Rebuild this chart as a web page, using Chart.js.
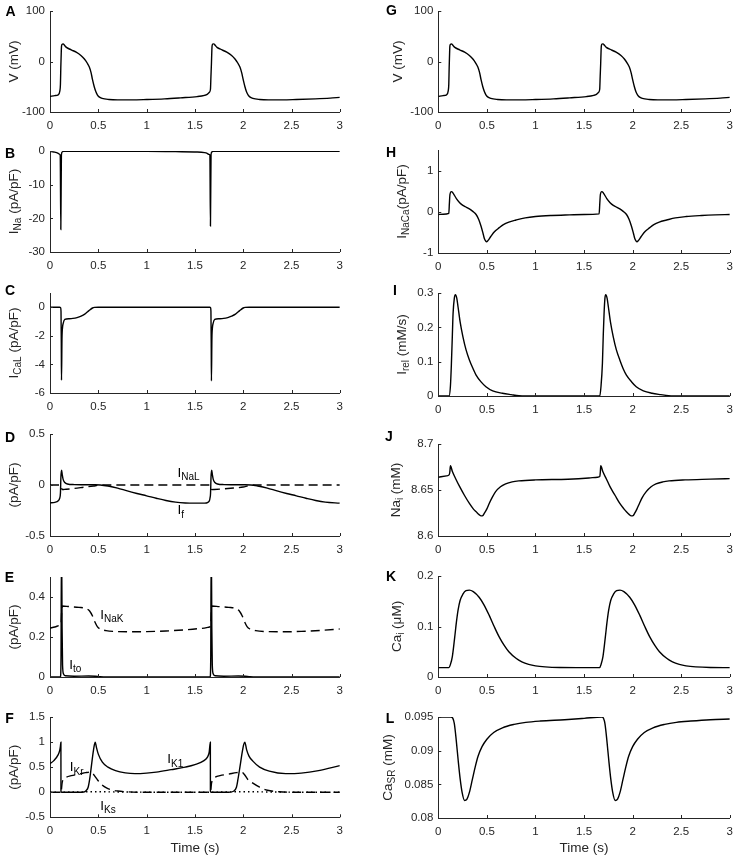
<!DOCTYPE html>
<html>
<head>
<meta charset="utf-8">
<script src="https://cdn.jsdelivr.net/npm/chart.js@4.4.1/dist/chart.umd.min.js"></script>
<style>
html, body { margin:0; padding:0; background:#fff; }
body { position:relative; width:740px; height:860px; overflow:hidden; }
canvas { position:absolute; }
</style>
</head>
<body>
<script>
// ---------- shared x axis ----------
const xTickVals = [0, 0.5, 1, 1.5, 2, 2.5, 3];
const xTickLabels = ['0', '0.5', '1', '1.5', '2', '2.5', '3'];

// ---------- A / G : membrane potential V (mV) ----------
const tV = [0, 0.05, 0.085, 0.102, 0.108, 0.112, 0.116, 0.119, 0.125, 0.136,
  0.15, 0.17, 0.22, 0.271, 0.32, 0.356, 0.385, 0.407, 0.425, 0.44,
  0.458, 0.475, 0.49, 0.508, 0.54, 0.61, 0.7, 0.847, 1.0, 1.186,
  1.35, 1.525, 1.6, 1.627, 1.65, 1.661, 1.666, 1.671, 1.675, 1.678,
  1.686, 1.695, 1.71, 1.729, 1.78, 1.83, 1.88, 1.915, 1.944, 1.966,
  1.984, 2.0, 2.018, 2.034, 2.05, 2.068, 2.1, 2.17, 2.26, 2.407,
  2.55, 2.746, 2.9, 3.0];
const V = [-69, -67.5, -66, -58, -45, -11, 15, 30, 34, 35,
  32, 28, 23, 18.5, 12, 5, -3, -11, -22, -36,
  -50, -60, -66, -70, -73, -75.2, -76, -76, -75.3, -74,
  -72, -69.5, -67, -65, -61, -55, -30, -5, 20, 31,
  34.5, 35, 32, 28, 23, 18.5, 12, 5, -3, -11,
  -22, -36, -50, -60, -66, -70, -73, -75.2, -76, -76,
  -75.3, -74, -72.5, -71];
const yTicksV = [-100, 0, 100];
const yLabelsV = ['-100', '0', '100'];

// ---------- B : I_Na ----------
const tNa = [0, 0.04, 0.085, 0.1, 0.106, 0.112, 0.118, 0.125, 0.14, 0.5,
  1.0, 1.3, 1.525, 1.6, 1.627, 1.645, 1.655, 1.661, 1.667, 1.675,
  1.69, 2.0, 2.5, 3.0];
const iNa = [-0.1, -0.3, -0.7, -1.0, -1.3, -23.3, -1.2, -0.3, -0.1, -0.1,
  -0.1, -0.2, -0.3, -0.5, -0.7, -1.0, -1.2, -22.3, -1.1, -0.3,
  -0.1, -0.1, -0.1, -0.1];
const yTicksB = [-30, -20, -10, 0];
const yLabelsB = ['-30', '-20', '-10', '0'];

// ---------- C : I_CaL ----------
const tCaL = [0, 0.1, 0.11, 0.114, 0.117, 0.119, 0.124, 0.13, 0.136, 0.153,
  0.2, 0.237, 0.28, 0.322, 0.36, 0.39, 0.415, 0.44, 0.46, 0.5,
  1.0, 1.5, 1.655, 1.662, 1.666, 1.669, 1.671, 1.676, 1.682, 1.688,
  1.705, 1.75, 1.797, 1.84, 1.88, 1.92, 1.95, 1.975, 2.0, 2.02,
  2.06, 2.5, 3.0];
const iCaL = [0, 0, -0.02, -0.3, -2.5, -5.1, -2.2, -1.4, -1.14, -0.85,
  -0.8, -0.78, -0.72, -0.62, -0.48, -0.31, -0.17, -0.05, -0.01, 0,
  0, 0, 0, -0.02, -0.3, -2.5, -5.15, -2.2, -1.4, -1.14,
  -0.85, -0.8, -0.78, -0.72, -0.62, -0.48, -0.31, -0.17, -0.05, -0.01,
  0, 0, 0];
const yTicksC = [-6, -4, -2, 0];
const yLabelsC = ['-6', '-4', '-2', '0'];

// ---------- D : I_f (solid) and I_NaL (dashed) ----------
const tIf = [0, 0.05, 0.085, 0.1, 0.108, 0.113, 0.12, 0.127, 0.136, 0.153,
  0.18, 0.25, 0.35, 0.45, 0.52, 0.6, 0.7, 0.8, 0.9, 1.0,
  1.1, 1.2, 1.3, 1.4, 1.5, 1.6, 1.635, 1.65, 1.656, 1.662,
  1.667, 1.674, 1.681, 1.69, 1.707, 1.734, 1.8, 1.9, 2.0, 2.08,
  2.15, 2.25, 2.35, 2.45, 2.55, 2.65, 2.75, 2.85, 3.0];
const iF = [-0.175, -0.17, -0.155, -0.13, -0.08, 0.08, 0.145, 0.1, 0.055, 0.025,
  0.01, 0.004, 0.003, 0.002, 0, -0.01, -0.03, -0.058, -0.083, -0.106,
  -0.13, -0.152, -0.168, -0.176, -0.178, -0.178, -0.17, -0.155, -0.13, -0.08,
  0.08, 0.145, 0.1, 0.055, 0.025, 0.01, 0.004, 0.003, 0.002, 0,
  -0.01, -0.03, -0.058, -0.083, -0.106, -0.13, -0.152, -0.168, -0.178];
const tNaL = [0, 0.11, 0.118, 0.125, 0.15, 0.25, 0.35, 0.45, 0.5, 0.55,
  1.66, 1.667, 1.675, 1.7, 1.8, 1.9, 2.0, 2.05, 2.1, 3.0];
const iNaL = [0, 0, -0.02, -0.045, -0.043, -0.034, -0.022, -0.01, -0.003, 0,
  0, -0.02, -0.045, -0.044, -0.038, -0.03, -0.02, -0.008, 0, 0];
const yTicksD = [-0.5, 0, 0.5];
const yLabelsD = ['-0.5', '0', '0.5'];

// ---------- E : I_to (solid) and I_NaK (dashed) ----------
const tTo = [0, 0.108, 0.114, 0.118, 0.121, 0.125, 0.13, 0.14, 0.16, 0.25,
  0.4, 0.47, 0.52, 0.6, 1.6, 1.658, 1.664, 1.668, 1.671, 1.675,
  1.68, 1.69, 1.71, 1.8, 1.95, 2.02, 2.07, 2.15, 3.0];
const iTo = [0, 0, 0.1, 0.6, 0.6, 0.25, 0.06, 0.015, 0.006, 0.004,
  0.005, 0.004, 0.001, 0, 0, 0, 0.1, 0.6, 0.6, 0.25,
  0.06, 0.015, 0.006, 0.004, 0.005, 0.004, 0.001, 0, 0];
const tNaK = [0, 0.05, 0.1, 0.114, 0.12, 0.125, 0.2, 0.3, 0.37, 0.41,
  0.44, 0.465, 0.49, 0.52, 0.58, 0.7, 0.85, 1.0, 1.2, 1.4,
  1.55, 1.65, 1.664, 1.67, 1.675, 1.75, 1.85, 1.92, 1.96, 1.99,
  2.015, 2.04, 2.07, 2.13, 2.25, 2.4, 2.6, 2.8, 3.0];
const iNaK = [0.245, 0.25, 0.258, 0.265, 0.32, 0.355, 0.352, 0.348, 0.343, 0.33,
  0.305, 0.275, 0.252, 0.24, 0.232, 0.227, 0.226, 0.227, 0.23, 0.236,
  0.242, 0.25, 0.26, 0.32, 0.355, 0.352, 0.348, 0.343, 0.33, 0.305,
  0.275, 0.252, 0.24, 0.232, 0.227, 0.226, 0.228, 0.233, 0.24];
const yTicksE = [0, 0.2, 0.4];
const yLabelsE = ['0', '0.2', '0.4'];

// ---------- F : I_K1 (solid), I_Kr (dashed), I_Ks (dotted) ----------
const tK1 = [0, 0.04, 0.085, 0.1, 0.108, 0.113, 0.1135, 0.12, 0.3, 0.35,
  0.373, 0.395, 0.41, 0.424, 0.44, 0.455, 0.468, 0.48, 0.5, 0.542,
  0.6, 0.678, 0.78, 0.88, 1.0, 1.1, 1.254, 1.4, 1.5, 1.594,
  1.63, 1.648, 1.66, 1.6605, 1.667, 1.85, 1.9, 1.93, 1.945, 1.966,
  1.99, 2.005, 2.017, 2.035, 2.06, 2.1, 2.17, 2.27, 2.44, 2.6,
  2.78, 3.0];
const iK1 = [0.57, 0.63, 0.75, 0.83, 0.92, 1.0, 0.02, 0, 0, 0.005,
  0.03, 0.1, 0.25, 0.45, 0.7, 0.9, 1.0, 0.9, 0.76, 0.6,
  0.5, 0.43, 0.385, 0.37, 0.38, 0.4, 0.45, 0.5, 0.55, 0.63,
  0.7, 0.8, 1.0, 0.02, 0, 0, 0.02, 0.1, 0.25, 0.5,
  0.8, 0.95, 1.0, 0.85, 0.72, 0.62, 0.5, 0.42, 0.37, 0.38,
  0.43, 0.53];
const tKr = [0, 0.113, 0.118, 0.125, 0.14, 0.17, 0.22, 0.3, 0.37, 0.41,
  0.44, 0.46, 0.49, 0.53, 0.58, 0.63, 0.7, 0.8, 0.9, 1.66,
  1.665, 1.672, 1.69, 1.712, 1.76, 1.85, 1.93, 1.983, 2.01, 2.05,
  2.1, 2.17, 2.25, 2.37, 2.5, 3.0];
const iKr = [0, 0, 0.05, 0.18, 0.26, 0.3, 0.33, 0.36, 0.39, 0.4,
  0.38, 0.33, 0.25, 0.16, 0.09, 0.05, 0.025, 0.008, 0, 0,
  0.05, 0.18, 0.26, 0.3, 0.33, 0.36, 0.39, 0.4, 0.36, 0.25,
  0.18, 0.1, 0.04, 0.01, 0, 0];
const tKs = [0, 0.12, 0.2, 0.35, 0.5, 0.7, 1.0, 1.67, 1.75, 1.9, 2.05, 2.25, 2.6, 3.0];
const iKs = [0, 0, 0.003, 0.008, 0.01, 0.005, 0.001, 0, 0.003, 0.008, 0.01, 0.005, 0.001, 0];
const yTicksF = [-0.5, 0, 0.5, 1, 1.5];
const yLabelsF = ['-0.5', '0', '0.5', '1', '1.5'];

// ---------- H : I_NaCa ----------
const tNCX = [0, 0.05, 0.108, 0.114, 0.12, 0.135, 0.15, 0.186, 0.22, 0.253,
  0.29, 0.32, 0.355, 0.389, 0.415, 0.44, 0.46, 0.473, 0.488, 0.497,
  0.51, 0.54, 0.58, 0.625, 0.67, 0.726, 0.8, 0.895, 1.0, 1.166,
  1.35, 1.5, 1.655, 1.662, 1.668, 1.683, 1.698, 1.734, 1.768, 1.801,
  1.838, 1.868, 1.903, 1.937, 1.963, 1.988, 2.008, 2.021, 2.036, 2.045,
  2.058, 2.088, 2.128, 2.173, 2.218, 2.274, 2.35, 2.44, 2.55, 2.71,
  2.85, 3.0];
const iNCX = [-0.065, -0.06, -0.04, 0.2, 0.42, 0.49, 0.46, 0.32, 0.22, 0.155,
  0.11, 0.07, 0.01, -0.065, -0.18, -0.35, -0.52, -0.64, -0.71, -0.73,
  -0.7, -0.6, -0.48, -0.39, -0.31, -0.25, -0.2, -0.147, -0.115, -0.09,
  -0.075, -0.065, -0.05, 0.2, 0.42, 0.49, 0.46, 0.32, 0.22, 0.155,
  0.11, 0.07, 0.01, -0.065, -0.18, -0.35, -0.52, -0.64, -0.71, -0.73,
  -0.7, -0.6, -0.48, -0.39, -0.31, -0.25, -0.2, -0.147, -0.115, -0.09,
  -0.075, -0.065];
const yTicksH = [-1, 0, 1];
const yLabelsH = ['-1', '0', '1'];

// ---------- I : I_rel ----------
const tRel = [0, 0.111, 0.125, 0.135, 0.145, 0.152, 0.165, 0.176, 0.19, 0.203,
  0.225, 0.253, 0.285, 0.32, 0.36, 0.389, 0.44, 0.49, 0.56, 0.66,
  0.75, 0.83, 1.0, 1.662, 1.675, 1.689, 1.698, 1.706, 1.715, 1.723,
  1.737, 1.75, 1.772, 1.8, 1.832, 1.868, 1.905, 1.936, 1.99, 2.037,
  2.11, 2.2, 2.29, 2.37, 2.5, 3.0];
const iRel = [0, 0, 0.03, 0.095, 0.18, 0.24, 0.285, 0.295, 0.285, 0.26,
  0.215, 0.173, 0.135, 0.105, 0.078, 0.061, 0.041, 0.027, 0.015, 0.008,
  0.004, 0.001, 0, 0, 0.03, 0.095, 0.18, 0.24, 0.285, 0.295,
  0.285, 0.26, 0.215, 0.173, 0.135, 0.105, 0.078, 0.061, 0.041, 0.027,
  0.015, 0.008, 0.004, 0.001, 0, 0];
const yTicksI = [0, 0.1, 0.2, 0.3];
const yLabelsI = ['0', '0.1', '0.2', '0.3'];

// ---------- J : Na_i ----------
const tNai = [0, 0.084, 0.111, 0.118, 0.125, 0.145, 0.18, 0.22, 0.27, 0.32,
  0.36, 0.39, 0.42, 0.44, 0.458, 0.473, 0.5, 0.524, 0.555, 0.59,
  0.64, 0.693, 0.76, 0.828, 1.0, 1.334, 1.55, 1.639, 1.662, 1.667,
  1.672, 1.693, 1.73, 1.767, 1.82, 1.868, 1.91, 1.936, 1.966, 1.986,
  2.005, 2.02, 2.045, 2.07, 2.1, 2.14, 2.19, 2.24, 2.31, 2.375,
  2.54, 2.8, 3.0];
const Nai = [8.6639, 8.6653, 8.6664, 8.669, 8.6763, 8.670, 8.662, 8.6536, 8.644, 8.6354,
  8.6295, 8.6263, 8.6232, 8.6219, 8.6222, 8.6245, 8.6295, 8.6354, 8.642, 8.6482,
  8.6535, 8.6566, 8.6588, 8.6599, 8.661, 8.6617, 8.663, 8.6639, 8.6646, 8.669,
  8.6763, 8.670, 8.662, 8.6536, 8.644, 8.6354, 8.6295, 8.6263, 8.6232, 8.6219,
  8.6222, 8.6245, 8.6295, 8.6354, 8.642, 8.6482, 8.6535, 8.6566, 8.6588, 8.6599,
  8.661, 8.6618, 8.6624];
const yTicksJ = [8.6, 8.65, 8.7];
const yLabelsJ = ['8.6', '8.65', '8.7'];

// ---------- K : Ca_i ----------
const tCai = [0, 0.108, 0.125, 0.145, 0.169, 0.186, 0.203, 0.225, 0.253, 0.285,
  0.32, 0.36, 0.42, 0.47, 0.524, 0.575, 0.625, 0.68, 0.726, 0.8,
  0.86, 0.93, 1.0, 1.1, 1.25, 1.5, 1.66, 1.675, 1.695, 1.719,
  1.736, 1.753, 1.775, 1.803, 1.835, 1.87, 1.91, 1.97, 2.02, 2.074,
  2.125, 2.175, 2.23, 2.276, 2.35, 2.41, 2.48, 2.55, 2.65, 2.8,
  3.0];
const Cai = [0.0185, 0.0185, 0.025, 0.041, 0.079, 0.108, 0.132, 0.152, 0.164, 0.171,
  0.172, 0.169, 0.158, 0.143, 0.122, 0.1, 0.08, 0.062, 0.05, 0.037,
  0.03, 0.025, 0.022, 0.02, 0.0188, 0.0185, 0.0186, 0.025, 0.041, 0.079,
  0.108, 0.132, 0.152, 0.164, 0.171, 0.172, 0.169, 0.158, 0.143, 0.122,
  0.1, 0.08, 0.062, 0.05, 0.037, 0.03, 0.025, 0.022, 0.02, 0.0188,
  0.0185];
const yTicksK = [0, 0.1, 0.2];
const yLabelsK = ['0', '0.1', '0.2'];

// ---------- L : Ca_SR ----------
const tSR = [0, 0.13, 0.15, 0.165, 0.185, 0.205, 0.225, 0.245, 0.27, 0.295,
  0.32, 0.35, 0.38, 0.41, 0.45, 0.5, 0.57, 0.66, 0.78, 0.9,
  1.05, 1.3, 1.5, 1.685, 1.7, 1.715, 1.735, 1.755, 1.775, 1.795,
  1.82, 1.845, 1.87, 1.9, 1.93, 1.96, 2.0, 2.05, 2.12, 2.21,
  2.33, 2.45, 2.6, 2.8, 3.0];
const CaSR = [0.095, 0.095, 0.0948, 0.094, 0.0915, 0.0885, 0.0858, 0.0838, 0.0826, 0.0828,
  0.0838, 0.0857, 0.0876, 0.0892, 0.0906, 0.0917, 0.0927, 0.0934, 0.0939, 0.0942,
  0.0944, 0.0946, 0.0948, 0.095, 0.0948, 0.094, 0.0915, 0.0885, 0.0858, 0.0838,
  0.0826, 0.0828, 0.0838, 0.0857, 0.0876, 0.0892, 0.0906, 0.0917, 0.0927, 0.0934,
  0.0939, 0.0942, 0.0944, 0.0946, 0.0947];
const yTicksL = [0.08, 0.085, 0.09, 0.095];
const yLabelsL = ['0.08', '0.085', '0.09', '0.095'];

// ---------- styling / layout ----------
const FONT = '"Liberation Sans", Arial, Helvetica, sans-serif';
const AXIS = '#262626';
const DASH = [9, 5];
const DOT = [1.5, 3];

const panels = [
  { id:'A', col:0, top:11, bottom:112, yMin:-100, yMax:100, yTicks:yTicksV, yLabels:yLabelsV,
    title:[['V (mV)',0]], titleX:13, lx:10.5, ly:11,
    series:[{t:tV, v:V}] },
  { id:'B', col:0, top:151, bottom:252, yMin:-30, yMax:0, yTicks:yTicksB, yLabels:yLabelsB,
    title:[['I',0],['Na',1],[' (pA/pF)',0]], titleX:13, lx:10, ly:152.5,
    series:[{t:tNa, v:iNa}] },
  { id:'C', col:0, top:292.5, bottom:392, yMin:-6, yMax:1, yTicks:yTicksC, yLabels:yLabelsC,
    title:[['I',0],['CaL',1],[' (pA/pF)',0]], titleX:13, lx:10, ly:289,
    series:[{t:tCaL, v:iCaL}] },
  { id:'D', col:0, top:434, bottom:536, yMin:-0.5, yMax:0.5, yTicks:yTicksD, yLabels:yLabelsD,
    title:[['(pA/pF)',0]], titleX:13, lx:10, ly:437,
    series:[{t:tNaL, v:iNaL, dash:DASH}, {t:tIf, v:iF}],
    notes:[{parts:[['I',0],['NaL',1]], t:1.32, v:0.13}, {parts:[['I',0],['f',1]], t:1.32, v:-0.24}] },
  { id:'E', col:0, top:576.5, bottom:676, yMin:0, yMax:0.5, yTicks:yTicksE, yLabels:yLabelsE,
    title:[['(pA/pF)',0]], titleX:13, lx:9.5, ly:576,
    series:[{t:tNaK, v:iNaK, dash:DASH}, {t:tTo, v:iTo}],
    notes:[{parts:[['I',0],['NaK',1]], t:0.52, v:0.315}, {parts:[['I',0],['to',1]], t:0.2, v:0.065}] },
  { id:'F', col:0, top:716.7, bottom:817.3, yMin:-0.5, yMax:1.5, yTicks:yTicksF, yLabels:yLabelsF,
    title:[['(pA/pF)',0]], titleX:13, lx:9.5, ly:718, xTitle:true,
    series:[{t:tKs, v:iKs, dash:DOT}, {t:tKr, v:iKr, dash:DASH}, {t:tK1, v:iK1}],
    notes:[{parts:[['I',0],['Kr',1]], t:0.205, v:0.52}, {parts:[['I',0],['K1',1]], t:1.215, v:0.68},
           {parts:[['I',0],['Ks',1]], t:0.52, v:-0.25}] },
  { id:'G', col:1, top:11, bottom:112, yMin:-100, yMax:100, yTicks:yTicksV, yLabels:yLabelsV,
    title:[['V (mV)',0]], titleX:397, lx:391.5, ly:10,
    series:[{t:tV, v:V}] },
  { id:'H', col:1, top:150, bottom:253.3, yMin:-1, yMax:1.5, yTicks:yTicksH, yLabels:yLabelsH,
    title:[['I',0],['NaCa',1],['(pA/pF)',0]], titleX:401, lx:391, ly:151.7,
    series:[{t:tNCX, v:iNCX}] },
  { id:'I', col:1, top:293.3, bottom:396, yMin:0, yMax:0.3, yTicks:yTicksI, yLabels:yLabelsI,
    title:[['I',0],['rel',1],[' (mM/s)',0]], titleX:401, lx:395, ly:290,
    series:[{t:tRel, v:iRel}] },
  { id:'J', col:1, top:444, bottom:536, yMin:8.6, yMax:8.7, yTicks:yTicksJ, yLabels:yLabelsJ,
    title:[['Na',0],['i',1],[' (mM)',0]], titleX:395, lx:389, ly:436,
    series:[{t:tNai, v:Nai}] },
  { id:'K', col:1, top:575.7, bottom:676.7, yMin:0, yMax:0.2, yTicks:yTicksK, yLabels:yLabelsK,
    title:[['Ca',0],['i',1],[' (\u03BCM)',0]], titleX:396, lx:391, ly:576,
    series:[{t:tCai, v:Cai}] },
  { id:'L', col:1, top:717, bottom:818, yMin:0.08, yMax:0.095, yTicks:yTicksL, yLabels:yLabelsL,
    title:[['Ca',0],['SR',1],[' (mM)',0]], titleX:387, lx:390, ly:718, xTitle:true,
    series:[{t:tSR, v:CaSR}] }
];

function pts(t, v) { return t.map((x, i) => ({ x: x, y: v[i] })); }

function drawRich(ctx, parts, x, y, rotated, size, subSize, color) {
  ctx.save();
  ctx.translate(x, y);
  if (rotated) ctx.rotate(-Math.PI / 2);
  ctx.fillStyle = color;
  ctx.textAlign = 'left';
  ctx.textBaseline = 'alphabetic';
  const fMain = size + 'px ' + FONT, fSub = subSize + 'px ' + FONT;
  let w = 0;
  parts.forEach(p => { ctx.font = p[1] ? fSub : fMain; w += ctx.measureText(p[0]).width; });
  let cx = rotated ? -w / 2 : 0;
  const base = size * 0.358;
  parts.forEach(p => {
    ctx.font = p[1] ? fSub : fMain;
    ctx.fillText(p[0], cx, base + (p[1] ? size * 0.27 : 0));
    cx += ctx.measureText(p[0]).width;
  });
  ctx.restore();
}

function drawDecor(chart, p, g) {
  const ctx = chart.ctx, a = chart.chartArea, xs = chart.scales.x, ys = chart.scales.y;
  ctx.save();
  ctx.strokeStyle = AXIS;
  ctx.lineWidth = 1;
  ctx.beginPath();
  xTickVals.forEach(v => {
    const px = Math.round(xs.getPixelForValue(v)) + 0.5;
    ctx.moveTo(px, a.bottom); ctx.lineTo(px, a.bottom - 3);
  });
  p.yTicks.forEach(v => {
    const py = Math.round(ys.getPixelForValue(v)) + 0.5;
    ctx.moveTo(a.left, py); ctx.lineTo(a.left + 3, py);
  });
  ctx.stroke();
  drawRich(ctx, p.title, p.titleX - g.left, (a.top + a.bottom) / 2, true, 13.5, 10, AXIS);
  ctx.font = 'bold 14px ' + FONT;
  ctx.fillStyle = '#000';
  ctx.textAlign = 'center';
  ctx.textBaseline = 'alphabetic';
  ctx.fillText(p.id, p.lx - g.left, p.ly - g.top + 14 * 0.358);
  (p.notes || []).forEach(n => drawRich(ctx, n.parts, xs.getPixelForValue(n.t), ys.getPixelForValue(n.v), false, 13.5, 10, '#000'));
  ctx.restore();
}

Chart.defaults.font.family = FONT;
Chart.defaults.color = AXIS;

panels.forEach(p => {
  const left = p.col === 0 ? 0 : 370;
  const width = p.col === 0 ? 350 : 370;
  const yW = p.col === 0 ? 50 : 68.3;
  const padR = p.col === 0 ? 5 : 5.7;
  const padT = 16;
  const xH = p.xTitle ? (858 - p.bottom) : 24;
  const top = p.top - padT;
  const height = Math.round(p.bottom - p.top + padT + xH);
  const g = { left: left, top: top };
  const cv = document.createElement('canvas');
  cv.style.left = left + 'px';
  cv.style.top = top + 'px';
  cv.style.width = width + 'px';
  cv.style.height = height + 'px';
  cv.width = width;
  cv.height = height;
  document.body.appendChild(cv);
  const tickFont = { family: FONT, size: 11.5 };
  new Chart(cv, {
    type: 'line',
    data: {
      datasets: p.series.map(s => ({
        data: pts(s.t, s.v),
        borderColor: '#000',
        borderWidth: 1.4,
        borderDash: s.dash || [],
        pointRadius: 0,
        pointHoverRadius: 0,
        fill: false,
        cubicInterpolationMode: 'monotone'
      }))
    },
    options: {
      responsive: false,
      animation: false,
      events: [],
      layout: { padding: { left: 0, right: padR, top: padT, bottom: 0 } },
      plugins: { legend: { display: false }, tooltip: { enabled: false }, title: { display: false } },
      scales: {
        x: {
          type: 'linear', min: 0, max: 3,
          afterBuildTicks: s => { s.ticks = xTickVals.map(v => ({ value: v })); },
          afterFit: s => { s.height = xH; },
          grid: { display: false, drawTicks: false },
          border: { display: true, color: AXIS, width: 1 },
          ticks: { autoSkip: false, maxRotation: 0, padding: 7, font: tickFont, color: AXIS,
                   callback: (v, i) => xTickLabels[i] },
          title: p.xTitle ? { display: true, text: 'Time (s)', color: AXIS,
                              font: { family: FONT, size: 13.5 }, padding: { top: 0, bottom: 2 } }
                          : { display: false }
        },
        y: {
          type: 'linear', min: p.yMin, max: p.yMax,
          afterBuildTicks: s => { s.ticks = p.yTicks.map(v => ({ value: v })); },
          afterFit: s => { s.width = yW; },
          grid: { display: false, drawTicks: false },
          border: { display: true, color: AXIS, width: 1 },
          ticks: { padding: 5, font: tickFont, color: AXIS, callback: (v, i) => p.yLabels[i] }
        }
      }
    },
    plugins: [{ id: 'decor' + p.id, afterDraw: chart => drawDecor(chart, p, g) }]
  });
});
</script>
</body>
</html>
